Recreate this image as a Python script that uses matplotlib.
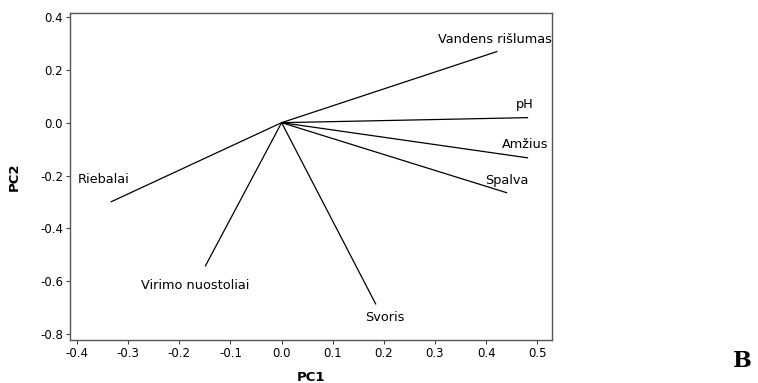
import matplotlib
matplotlib.use("Agg")
import matplotlib.pyplot as plt

variables = ["Vandens rišlumas", "pH", "Amžius", "Spalva", "Riebalai", "Virimo nuostoliai", "Svoris"]
pc1 = [0.421, 0.481, 0.481, 0.440, -0.333, -0.149, 0.184]
pc2 = [0.269, 0.019, -0.133, -0.265, -0.299, -0.542, -0.686]

# label anchor positions (data coords) and alignment
label_pos = [(0.417, 0.314, "center"), (0.476, 0.068, "center"), (0.476, -0.083, "center"),
             (0.440, -0.220, "center"), (-0.399, -0.216, "left"), (-0.170, -0.617, "center"),
             (0.202, -0.739, "center")]

fig = plt.figure(figsize=(7.58, 3.83), dpi=100)
ax = fig.add_axes([0.0923, 0.112, 0.636, 0.854])

for x, y in zip(pc1, pc2):
    ax.plot([0, x], [0, y], color="black", lw=0.9)

for name, (lx, ly, ha) in zip(variables, label_pos):
    ax.text(lx, ly, name, ha=ha, va="center", fontsize=9.3, family="DejaVu Sans")

ax.set_xlim(-0.414, 0.529)
ax.set_ylim(-0.823, 0.415)
ax.set_xticks([-0.4, -0.3, -0.2, -0.1, 0.0, 0.1, 0.2, 0.3, 0.4, 0.5])
ax.set_xticklabels(["-0.4", "-0.3", "-0.2", "-0.1", "0.0", "0.1", "0.2", "0.3", "0.4", "0.5"])
ax.set_yticks([-0.8, -0.6, -0.4, -0.2, 0.0, 0.2, 0.4])
ax.set_yticklabels(["-0.8", "-0.6", "-0.4", "-0.2", "0.0", "0.2", "0.4"])
ax.tick_params(labelsize=8.5, length=3, width=0.8, color="#444444", pad=2)
for s in ax.spines.values():
    s.set_color("#555555")
    s.set_linewidth(1.0)

ax.set_xlabel("PC1", fontsize=9.5, fontweight="bold", labelpad=8)
ax.set_ylabel("PC2", fontsize=9.5, fontweight="bold", labelpad=14)

fig.text(0.992, 0.058, "B", fontsize=16, fontweight="bold", family="DejaVu Serif", ha="right", va="center")

fig.savefig("out.png", dpi=100)
